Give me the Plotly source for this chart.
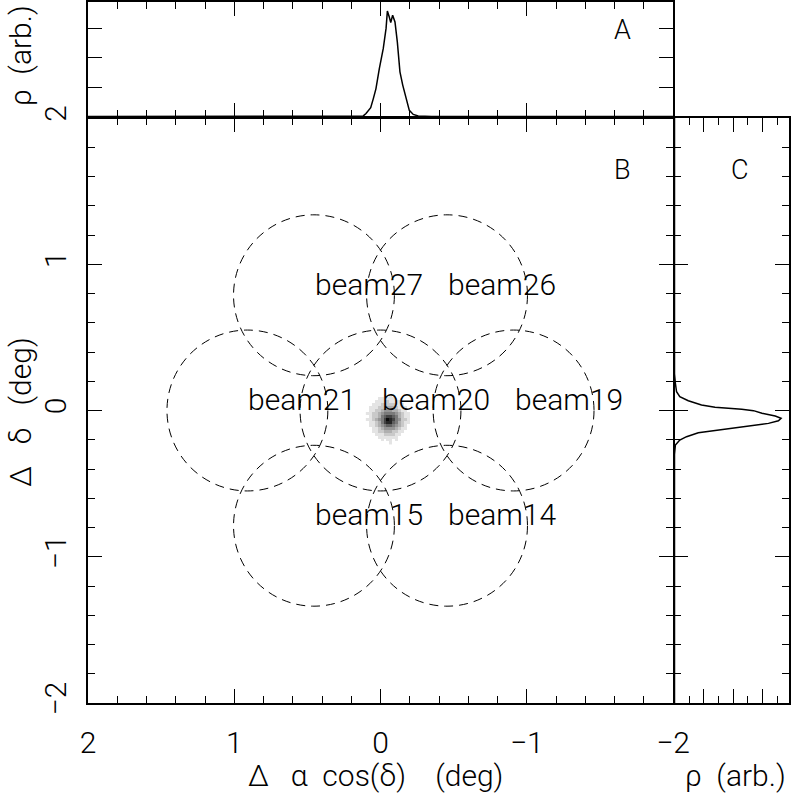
import plotly.graph_objects as go

# ---------------- data ----------------
beam_names = ["beam27", "beam26", "beam21", "beam20", "beam19", "beam15", "beam14"]
beam_x = [0.455, -0.455, 0.91, 0.0, -0.91, 0.455, -0.455]
beam_y = [0.788, 0.788, 0.0, 0.0, 0.0, -0.788, -0.788]
beam_radius = 0.55

# profile A (top panel): x offset (deg) vs density (arb.)
profA_x = [2.0, 0.20, 0.118, 0.099, 0.067, 0.049, 0.031, 0.008, -0.019, -0.038, -0.047,
           -0.060, -0.070, -0.083, -0.099, -0.115, -0.133, -0.152, -0.174, -0.197,
           -0.224, -0.258, -0.35, -2.0]
profA_y = [0.0, 0.0, 0.02, 0.10, 0.30, 0.61, 0.95, 1.63, 2.32, 3.00, 3.59,
           3.39, 3.20, 3.45, 3.22, 2.54, 1.52, 1.07, 0.61, 0.21,
           0.07, 0.02, 0.0, 0.0]

# profile C (right panel): dec offset (deg) vs density (arb.)
profC_y = [2.0, 0.25, 0.186, 0.128, 0.094, 0.067, 0.038, 0.022, 0.008, -0.001, -0.019,
           -0.038, -0.053, -0.070, -0.088, -0.115, -0.133, -0.152, -0.179, -0.202,
           -0.236, -0.30, -2.0]
profC_x = [0.0, 0.0, 0.03, 0.07, 0.18, 0.47, 0.92, 1.38, 2.29, 2.69, 2.98,
           3.43, 3.63, 3.54, 3.20, 2.18, 1.38, 0.81, 0.41, 0.18,
           0.03, 0.0, 0.0]

# density map (small gray blob)
map_x = [0.09, 0.07, 0.05, 0.03, 0.01, -0.01, -0.03, -0.05, -0.07, -0.09, -0.11, -0.13, -0.15, -0.17, -0.19, -0.21, -0.23]
map_y = [0.10, 0.08, 0.06, 0.04, 0.02, 0.0, -0.02, -0.04, -0.06, -0.08, -0.10, -0.12, -0.14, -0.16, -0.18, -0.20, -0.22]
map_z = [
    [0, 0, 0, 0, 0, 0, 1, 0, 1, 0, 0, 0, 0, 0, 0, 0, 0],
    [0, 0, 0, 0, 1, 1, 1, 1, 1, 1, 0, 0, 0, 0, 0, 0, 0],
    [0, 0, 0, 1, 1, 1, 1, 2, 1, 1, 1, 1, 0, 0, 0, 0, 0],
    [0, 0, 1, 1, 1, 2, 2, 2, 2, 2, 1, 1, 1, 0, 0, 0, 0],
    [0, 1, 1, 1, 2, 2, 3, 3, 3, 3, 2, 1, 1, 1, 0, 0, 0],
    [0, 1, 1, 2, 2, 3, 4, 4, 4, 3, 3, 2, 1, 1, 0, 0, 0],
    [1, 1, 2, 2, 3, 4, 5, 5, 5, 5, 4, 3, 2, 1, 1, 0, 0],
    [0, 1, 2, 2, 3, 5, 6, 7, 7, 6, 5, 3, 2, 1, 1, 0, 0],
    [1, 1, 2, 3, 4, 5, 7, 9, 8, 7, 5, 4, 2, 2, 1, 0, 0],
    [0, 1, 1, 2, 3, 5, 7, 8, 8, 6, 5, 3, 2, 1, 1, 0, 0],
    [0, 1, 1, 2, 3, 4, 5, 6, 6, 5, 4, 3, 2, 1, 0, 0, 0],
    [0, 0, 1, 1, 2, 3, 4, 4, 4, 4, 3, 2, 1, 1, 0, 0, 0],
    [0, 0, 1, 1, 2, 2, 3, 3, 3, 2, 2, 1, 1, 0, 0, 0, 0],
    [0, 0, 0, 1, 1, 1, 2, 2, 2, 2, 1, 1, 0, 0, 0, 0, 0],
    [0, 0, 0, 0, 1, 1, 1, 1, 1, 1, 1, 0, 0, 0, 0, 0, 0],
    [0, 0, 0, 0, 0, 1, 0, 1, 1, 0, 1, 0, 0, 0, 0, 0, 0],
    [0, 0, 0, 0, 0, 0, 0, 0, 1, 0, 0, 0, 0, 0, 0, 0, 0],
]

main_ticks = [2, 1, 0, -1, -2]
main_ticktext = ["2", "1", "0", "\u22121", "\u22122"]
panel_labels = ["A", "B", "C"]

# ---------------- figure ----------------
W, H = 792, 805
FONT = "Roboto"
WT = 300
LW = 1.5
fig = go.Figure()

gray_scale = [[0, "rgba(255,255,255,0)"], [0.05, "rgb(236,236,236)"], [0.111, "rgb(228,228,228)"],
              [0.333, "rgb(175,175,175)"], [0.667, "rgb(95,95,95)"], [1, "rgb(10,10,10)"]]
fig.add_trace(go.Heatmap(x=map_x, y=map_y, z=map_z, zmin=0, zmax=9,
                         colorscale=gray_scale, showscale=False,
                         xaxis="x", yaxis="y", hoverinfo="skip"))

fig.add_trace(go.Scatter(x=profA_x, y=profA_y, mode="lines", line=dict(color="black", width=1.5),
                         xaxis="x2", yaxis="y2", showlegend=False))
fig.add_trace(go.Scatter(x=profC_x, y=profC_y, mode="lines", line=dict(color="black", width=1.5),
                         xaxis="x3", yaxis="y3", showlegend=False))

shapes = []
for bx, by in zip(beam_x, beam_y):
    shapes.append(dict(type="circle", xref="x", yref="y",
                       x0=bx - beam_radius, x1=bx + beam_radius,
                       y0=by - beam_radius, y1=by + beam_radius,
                       line=dict(color="black", width=1, dash="9px,6px")))

annotations = []
for name, bx, by in zip(beam_names, beam_x, beam_y):
    annotations.append(dict(x=bx, y=by, xref="x", yref="y", text=name, showarrow=False,
                            xanchor="left", yanchor="middle", yshift=11, xshift=-1,
                            font=dict(family=FONT, size=30, color="black", weight=WT)))

def px2paper(px, py):
    return px / W, 1 - py / H

lab_pos = [(622, 30), (622, 170), (740, 170)]
for lab, (px, py) in zip(panel_labels, lab_pos):
    ax, ay = px2paper(px, py)
    annotations.append(dict(x=ax, y=ay, xref="paper", yref="paper", text=lab, showarrow=False,
                            xanchor="center", yanchor="middle",
                            font=dict(family=FONT, size=27, color="black", weight=WT)))

NB = "\u00a0"
titles = [
    ("\u0394" + NB * 3 + "\u03b1" + NB * 2 + "cos(\u03b4)" + NB * 4 + "(deg)", 375, 775, 0),
    ("\u03c1" + NB * 2 + "(arb.)", 735, 775, 0),
    ("\u0394" + NB * 3 + "\u03b4" + NB * 3 + "(deg)", 20, 412, -90),
    ("\u03c1" + NB * 2 + "(arb.)", 20, 56, -90),
]
for txt, px, py, ang in titles:
    ax, ay = px2paper(px, py)
    annotations.append(dict(x=ax, y=ay, xref="paper", yref="paper", text=txt, showarrow=False,
                            xanchor="center", yanchor="middle", textangle=ang,
                            font=dict(family=FONT, size=30, color="black", weight=WT)))

# domains (shared borders: leave a gap of one line width so the two axis lines coincide)
xd_main = [88 / W, 673 / W]
xd_c = [(673 + LW) / W, 789 / W]
yd_main = [1 - 703 / H, 1 - 118 / H]
yd_a = [1 - (118 - LW) / H, 1 - 2 / H]

common = dict(showline=True, linecolor="black", linewidth=LW, mirror="ticks",
              ticks="inside", tickcolor="black", tickwidth=1.4,
              showgrid=False, zeroline=False, automargin=False)
minor = dict(ticks="inside", ticklen=7, tickcolor="black", tickwidth=1.4, showgrid=False)

fig.update_layout(
    width=W, height=H, margin=dict(l=0, r=0, t=0, b=0, autoexpand=False),
    paper_bgcolor="white", plot_bgcolor="white", showlegend=False,
    font=dict(family=FONT, color="black"),
    xaxis=dict(domain=xd_main, range=[2, -2], anchor="y", tickmode="array",
               tickvals=main_ticks, ticktext=main_ticktext, ticklen=14,
               minor=dict(dtick=0.2, tick0=0, **minor), ticklabelstandoff=12,
               tickfont=dict(family=FONT, size=30, weight=WT), **common),
    yaxis=dict(domain=yd_main, range=[-2, 2], anchor="x", tickmode="array",
               tickvals=main_ticks, ticktext=main_ticktext, ticklen=14, tickangle=-90,
               minor=dict(dtick=0.2, tick0=0, **minor), ticklabelstandoff=8,
               tickfont=dict(family=FONT, size=30, weight=WT), **common),
    xaxis2=dict(domain=xd_main, range=[2, -2], anchor="y2", showticklabels=False,
                dtick=1, tick0=0, ticklen=14, minor=dict(dtick=0.2, tick0=0, **minor), **common),
    yaxis2=dict(domain=yd_a, range=[0, 3.9], anchor="x2", showticklabels=False,
                dtick=1, tick0=0, ticklen=14, **common),
    xaxis3=dict(domain=xd_c, range=[0, 3.9], anchor="y3", showticklabels=False,
                dtick=1, tick0=0, ticklen=14, minor=dict(dtick=0.5, tick0=0, **minor), **common),
    yaxis3=dict(domain=yd_main, range=[-2, 2], anchor="x3", showticklabels=False,
                dtick=1, tick0=0, ticklen=14, minor=dict(dtick=0.2, tick0=0, **minor), **common),
    shapes=shapes, annotations=annotations,
)

fig.write_html("out.html")
